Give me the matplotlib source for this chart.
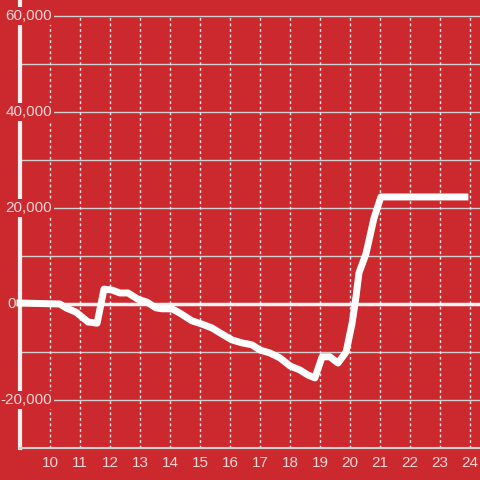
import matplotlib
matplotlib.use("Agg")
import matplotlib.pyplot as plt

hours = [9.0, 10.33, 10.53, 10.87, 11.27, 11.57, 11.8, 12.07, 12.33, 12.6, 12.93, 13.23,
         13.53, 13.73, 14.07, 14.33, 14.73, 15.07, 15.4, 15.73, 16.07, 16.4, 16.73, 17.0,
         17.33, 17.67, 18.0, 18.33, 18.6, 18.83, 19.07, 19.33, 19.6, 19.87, 20.07, 20.2,
         20.3, 20.53, 20.8, 21.03, 23.83]
values = [200, 0, -800, -1700, -3750, -4000, 3100, 2900, 2300, 2300, 1000, 400,
          -800, -1000, -1000, -1900, -3500, -4200, -5000, -6250, -7500, -8100, -8500, -9600,
          -10200, -11250, -12900, -13750, -14800, -15400, -11000, -11000, -12300, -10000, -4000, 1500,
          6500, 10400, 17900, 22300, 22300]
x_ticks = list(range(10, 25))
y_labels = [60000, 40000, 20000, -20000]
y_grid = list(range(-20000, 60001, 10000))

bg = "#cc292e"
txt = "#f3d6d6"
plt.rcParams['font.family'] = ['Liberation Sans', 'DejaVu Sans']

fig = plt.figure(figsize=(4.8, 4.8), dpi=100, facecolor=bg)
ax = fig.add_axes([20/480, 32/480, 460/480, 448/480])
ax.set_facecolor(bg)
ax.set_xlim(9, 9 + 460/30)
ax.set_ylim(-30000, -30000 + 448/96*20000)

for v in y_grid:
    if v == 0:
        continue
    ax.axhline(v, color="#d0d0d0", lw=1, zorder=1)
ax.vlines(x_ticks, -30000, 60000, colors="#e8e8e8", linestyles=(0, (2, 2)), lw=1, zorder=1)
ax.axhline(0, color="#f5f5f5", lw=2.5, zorder=2)

for s in ["top", "right"]:
    ax.spines[s].set_visible(False)
ax.spines["left"].set_color("#f0f0f0")
ax.spines["left"].set_linewidth(3)
ax.spines["bottom"].set_color("#d0d0d0")
ax.spines["bottom"].set_linewidth(1.5)
ax.spines["left"].set_zorder(2.5)

ax.set_yticks([])
ax.set_xticks(x_ticks)
ax.set_xticklabels([str(t) for t in x_ticks], color=txt, fontsize=11)
ax.tick_params(axis="x", length=0, pad=6)

for v in y_labels:
    ax.text(9 + 32/30, v, f"{v:,}", ha="right", va="center", color=txt, fontsize=11,
            zorder=3, bbox=dict(facecolor=bg, edgecolor="none", pad=1.5))
ax.text(9 - 4/30, 0, "0", ha="right", va="center", color=txt, fontsize=11,
        zorder=3, clip_on=False)

ax.plot(hours, values, color="white", lw=5, zorder=6, solid_joinstyle="round",
        solid_capstyle="projecting", clip_on=False)

fig.savefig("out.png", dpi=100, facecolor=bg)
